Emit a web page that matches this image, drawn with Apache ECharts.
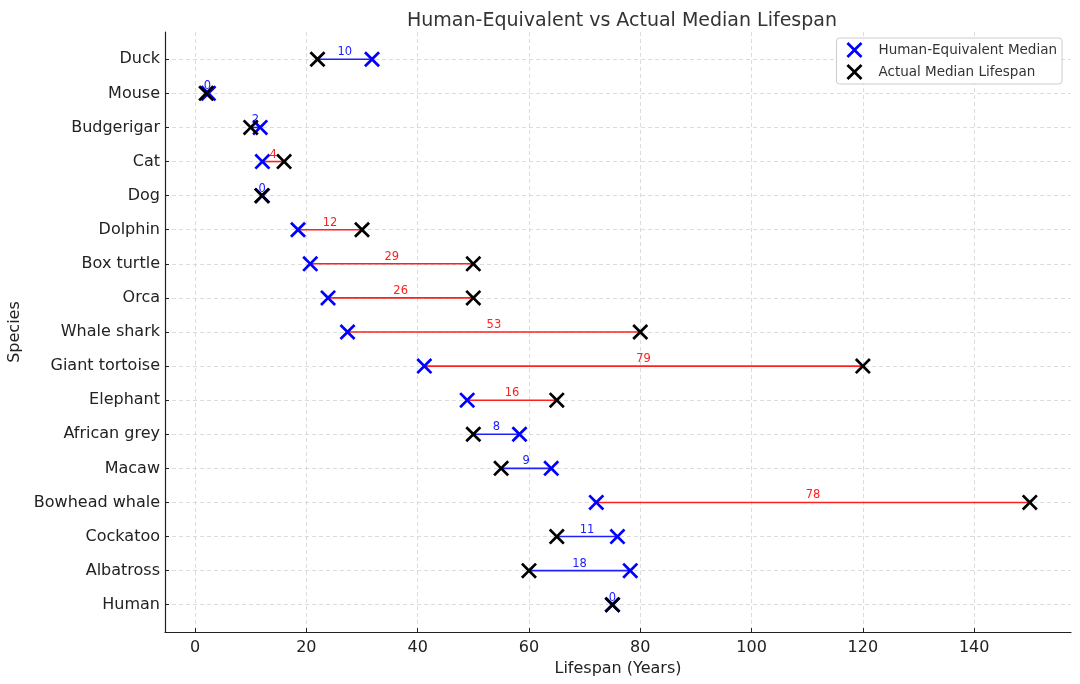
<!DOCTYPE html>
<html>
<head>
<meta charset="utf-8">
<script src="https://cdn.jsdelivr.net/npm/echarts@6/dist/echarts.min.js"></script>
<style>
	html, body { margin: 0; padding: 0; background: #fff; }
	#chart { width: 1080px; height: 684px; }
</style>
</head>
<body>
<div id="chart"></div>
<script>
// species from bottom (index 0) to top
let species = ['Human', 'Albatross', 'Cockatoo', 'Bowhead whale', 'Macaw', 'African grey', 'Elephant',
	'Giant tortoise', 'Whale shark', 'Orca', 'Box turtle', 'Dolphin', 'Dog', 'Cat', 'Budgerigar', 'Mouse', 'Duck']
let humanEq = [75, 78.2, 75.9, 72.1, 64, 58.3, 48.9, 41.2, 27.4, 23.9, 20.7, 18.5, 12.1, 12.1, 11.7, 2.4, 31.8]
let actual = [75, 60, 65, 150, 55, 50, 65, 120, 80, 50, 50, 30, 12, 16, 10, 2, 22]
let xTicks = [0, 20, 40, 60, 80, 100, 120, 140]

let chart = echarts.init(document.getElementById('chart'))
let font = 'DejaVu Sans'
let xShape = 'path://M0,1.2 L1.2,0 L5,3.8 L8.8,0 L10,1.2 L6.2,5 L10,8.8 L8.8,10 L5,6.2 L1.2,10 L0,8.8 L3.8,5 Z'

let idx = species.map((s, i) => i)
let humanPts = [], actualPts = [], segs = []
for (let i = 0; i < species.length; i++) {
	humanPts.push([humanEq[i], i])
	actualPts.push([actual[i], i])
	segs.push([humanEq[i], actual[i], i])
}

let option = {
	animation: false,
	backgroundColor: '#fff',
	title: {
		text: 'Human-Equivalent vs Actual Median Lifespan',
		left: 617,
		top: 7,
		textAlign: 'center',
		textStyle: { fontFamily: font, fontSize: 19, fontWeight: 'normal', color: '#333' }
	},
	legend: {
		right: 18,
		top: 38,
		orient: 'vertical',
		itemGap: 6,
		itemWidth: 16,
		itemHeight: 16,
		padding: [4, 5, 4, 10],
		borderColor: '#ccc',
		borderWidth: 1,
		borderRadius: 3,
		backgroundColor: 'rgba(255,255,255,0.85)',
		textStyle: { fontFamily: font, fontSize: 13.5, color: '#333', padding: [0, 0, 0, 11] },
		data: [
			{ name: 'Human-Equivalent Median', icon: xShape },
			{ name: 'Actual Median Lifespan', icon: xShape }
		]
	},
	grid: { left: 165, right: 9, top: 32, bottom: 52, outerBoundsMode: 'none', containLabel: false },
	xAxis: {
		type: 'value',
		min: -5.4,
		max: 157.4,
		name: 'Lifespan (Years)',
		nameLocation: 'middle',
		nameGap: 27,
		nameTextStyle: { fontFamily: font, fontSize: 16, color: '#222' },
		axisLine: { show: true, onZero: false, lineStyle: { color: '#222', width: 1.2 } },
		axisTick: { show: true, inside: true, length: 4, customValues: xTicks, lineStyle: { color: '#222' } },
		axisLabel: { customValues: xTicks, fontFamily: font, fontSize: 16, color: '#222', margin: 8 },
		splitLine: { show: true, lineStyle: { color: '#d3d3d3', type: [4, 3], width: 0.8 } }
	},
	yAxis: {
		type: 'value',
		min: -0.8,
		max: 16.8,
		name: 'Species',
		nameLocation: 'middle',
		nameGap: 133,
		nameRotate: 90,
		nameTextStyle: { fontFamily: font, fontSize: 16, color: '#222' },
		axisLine: { show: true, onZero: false, lineStyle: { color: '#222', width: 1.2 } },
		axisTick: { show: true, inside: true, length: 4, customValues: idx, lineStyle: { color: '#222' } },
		axisLabel: {
			customValues: idx,
			fontFamily: font, fontSize: 16, color: '#222', margin: 5,
			formatter: v => species[Math.round(v)]
		},
		splitLine: { show: true, lineStyle: { color: '#d3d3d3', type: [4, 3], width: 0.8 } }
	},
	series: [
		{
			name: 'diff',
			type: 'custom',
			z: 1,
			data: segs,
			renderItem: function(params, api) {
				let h = api.value(0), a = api.value(1), y = api.value(2)
				let p1 = api.coord([h, y])
				let p2 = api.coord([a, y])
				let c = a > h ? '#ff2020' : '#2020ff'
				let diff = Math.round(Math.abs(a - h))
				return {
					type: 'group',
					children: [
						{
							type: 'line',
							shape: { x1: p1[0], y1: p1[1], x2: p2[0], y2: p2[1] },
							style: { stroke: c, lineWidth: 1.6 }
						},
						{
							type: 'text',
							x: (p1[0] + p2[0]) / 2,
							y: p1[1] - 1,
							style: {
								text: String(diff),
								fill: c,
								fontFamily: font,
								fontSize: 11.5,
								align: 'center',
								verticalAlign: 'bottom'
							}
						}
					]
				}
			}
		},
		{
			name: 'Human-Equivalent Median',
			type: 'scatter',
			z: 2,
			symbol: xShape,
			symbolSize: 16,
			itemStyle: { color: '#0000ff', opacity: 1 },
			data: humanPts
		},
		{
			name: 'Actual Median Lifespan',
			type: 'scatter',
			z: 3,
			symbol: xShape,
			symbolSize: 16,
			itemStyle: { color: '#000000', opacity: 1 },
			data: actualPts
		}
	]
}

chart.setOption(option)
</script>
</body>
</html>
